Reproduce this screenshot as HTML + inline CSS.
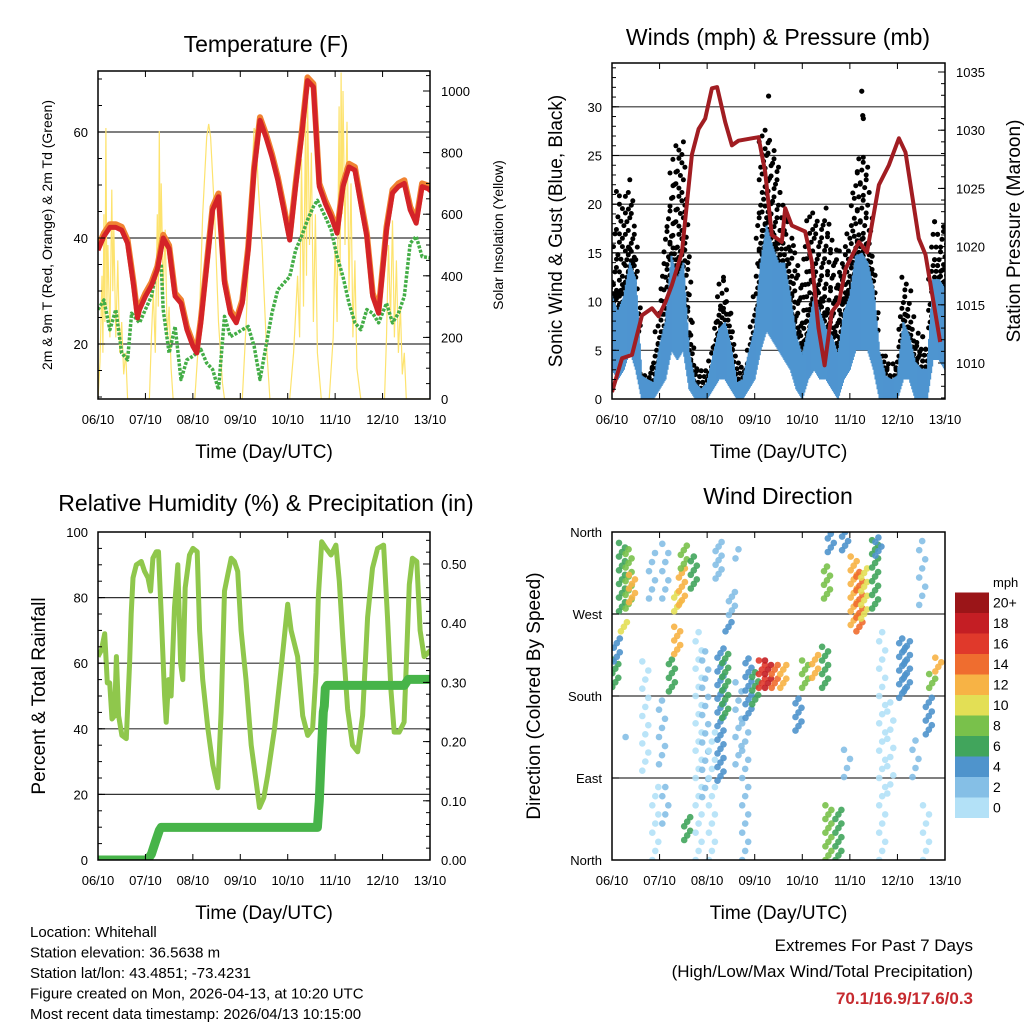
<!DOCTYPE html>
<html><head><meta charset="utf-8"><title>Weather station</title>
<style>
html,body{margin:0;padding:0;background:#fff;}
svg{display:block;font-family:"Liberation Sans",Arial,sans-serif;}
</style></head>
<body>
<svg id="chart" width="1024" height="1024" viewBox="0 0 1024 1024" xmlns="http://www.w3.org/2000/svg">
<defs>
<clipPath id="c1"><rect x="98" y="71" width="332" height="328"/></clipPath>
<clipPath id="c2"><rect x="612" y="63" width="333" height="336"/></clipPath>
<clipPath id="c3"><rect x="98" y="532" width="332" height="328"/></clipPath>
<clipPath id="c4"><rect x="612" y="532" width="333" height="328"/></clipPath>
</defs>
</svg>
<script>
// ---------- DATA ----------
const dayLabels = ["06/10","07/10","08/10","09/10","10/10","11/10","12/10","13/10"];
const tempHours = [0,3,6,9,12,15,18,20,21,24,27,30,33,36,39,42,45,48,50,52,55,58,61,64,67,70,73,76,79,82,85,88,91,94,97,100,103,106,109,112,115,118,121,124,127,130,133,136,139,142,146,149,152,155,158,161,164,167,169];
const tempVals = [37.7,40.3,42,42,41.5,39,31,24.9,26.5,29,31,34,40,38,29,27.7,22.7,19.6,18.3,24,34.6,45.3,47.8,31.5,25.8,24,27.7,37.7,52.8,62.2,59,55.3,50.9,45.3,39.6,49.7,59,69.7,68.5,49.7,46.5,44,40.9,49.7,53.4,52.8,46.5,40.3,29,25.8,41.5,48.5,49.7,50.3,45.3,42.8,49.7,49.3,48.7];
const dewHours = [0,3,6,9,12,15,17,21,24,27,30,32,33,36,39,42,45,48,52,55,58,61,64,67,70,73,76,79,82,85,88,91,94,97,100,103,106,109,111,115,118,121,124,127,130,133,136,139,142,146,149,152,155,158,161,164,169];
const dewVals = [26.5,28.3,22.7,26.5,18.3,17,25.8,24,26.5,29,34.6,35,26.5,18.3,23.3,13.3,17,17.7,19,16.4,15.2,11.4,25.2,21.4,22,22.7,23.3,19.6,13.3,19.6,25.8,30.2,31.5,32.7,37.7,40.3,43.4,45.9,47.1,44,41.5,36.5,32.7,27.7,24,22.7,26.5,25.8,24,27.7,24,25.8,29,39,40.3,36.5,36.2];
const solarHours = [0,1,2,2.5,3,3.5,4,4.5,5,6,7,7.5,8,9,10,11,12,13,14,15, 26,27,28,29,30,30.5,31,31.5,32,33,34,35,36,37,38, 49,51,53,55,56,57,59,61,63,64, 73,75,77,79,80,81,83,85,87, 97,99,101,102,103,104,105,105.5,106,107,108,109,110,111,113, 117,119,120,121,122,122.5,123,123.5,124,125,126,127,128,129,130,131,133, 145,146,147,148,149,150,151,152,153,154,155,156,168];
const solarVals = [0,120,400,150,600,250,880,300,500,200,680,350,560,200,450,150,250,80,150,0, 0,200,350,150,600,300,870,400,700,350,550,200,300,100,0, 0,200,600,850,893,850,600,250,50,0, 0,250,600,880,860,700,500,200,0, 0,150,400,200,780,300,900,400,1000,500,800,250,600,150,0, 0,200,500,250,950,400,1060,600,1000,500,900,350,700,200,450,100,0, 0,200,500,250,580,200,450,150,300,80,150,0,0];

const windHi = [10.6,8.9,10.6,14,12.3,2.4,2,1.7, 5.5,7.9,14.7,12.3,14,4.8,1.7,1, 1.7,4.5,7.2,7.9,5.5,1.7,2,4.8, 7.2,14,17.8,15.7,14,14,10.6,6.5, 4.5,7.2,10.6,8.9,7.2,6.5,4.5,8.9, 10.6,14.7,15,14,11.3,4.8,2.4,2, 2.4,7.9,6.5,3.8,3.1,3.1,12.3,12.3,11.3];
const windLo = [3,2,3,5,3,0,0,0, 1,2,5,4,5,1,0,0, 0,1,2,2,1,0,0,1, 2,5,7,6,5,4,3,1, 0,2,3,2,2,1,0,2, 3,5,5,5,3,0,0,0, 0,2,2,0,0,0,4,4,3];
const gustHi = [12.3,21.9,19.8,23.6,18.1,2.8,2.8,3.8, 10.6,18.1,23.9,26.3,27.3,14.7,3.1,3.1, 2.8,5.5,12,12.7,8.9,3.8,3.1,5.2, 10.6,27.7,28.4,26.7,24.6,19.1,17.4,15.4, 12.3,19.1,19.8,18.5,19.8,17.4,15.4,15.4, 18.5,24.3,25.3,24.3,14,4.5,4.5,2.8, 4.8,13.3,12.3,6.5,7.2,5.8,19.1,18.1,17.4];
const gustOutHours = [79,126,126.5,126.8];
const gustOutVals = [31.1,31.6,29.1,28.8];
const presDays = [0,0.21,0.42,0.63,0.84,0.98,1.12,1.26,1.47,1.68,1.82,1.96,2.1,2.21,2.38,2.52,2.66,2.94,3.08,3.22,3.36,3.57,3.64,3.78,4.06,4.2,4.34,4.47,4.62,4.77,4.91,5.19,5.36,5.61,5.82,6.03,6.17,6.45,6.59,6.9];
const presVals = [1007.5,1010.4,1010.7,1014.1,1014.7,1014,1015.2,1016.7,1019.5,1027.9,1030.1,1031,1033.6,1033.7,1030.7,1028.7,1029.1,1029.3,1029.4,1026.4,1021,1020.4,1023.3,1021.8,1021.3,1018.7,1013,1009.8,1014.4,1015.2,1018.1,1020.4,1019.5,1025.3,1027,1029.3,1028.1,1020.7,1019.3,1011.8];

const rhHours = [0,1.7,3.4,4.7,5.9,7.1,8.4,9.3,10.4,12.1,14.3,16,16.8,17.7,19.4,21.9,23.6,25.3,26.6,27.8,29.5,30.6,32,33.7,34.5,35.7,37,38.7,40.4,41.8,42.9,44.1,46.3,48,50.2,51.4,53,55.6,58.1,60.6,62.3,64,65.7,67.4,69,70.7,72.4,74.9,77.5,80,81.7,83.9,85.9,89.3,92.6,96,97.7,101,103.6,106.1,108.6,110.3,111.5,113.2,115.4,117.9,120.4,122.1,123.8,126.3,128.8,131.4,133.9,136.4,138.9,141.5,144.5,146.5,148.2,149.9,152.4,154.9,157.5,159.1,161.3,163,165,168.4];
const rhVals = [62,64,69,54,54,43,44,62,44,38,37,60,75,86,90,91,88,86,82,92,94,94,75,50,42,55,50,77,90,60,55,83,93,95,94,70,55,40,29,22,45,82,87,92,91,88,70,55,35,24,16,19,26,40,58,78,70,62,44,38,40,57,80,97,95,93,96,85,68,46,35,33,44,74,89,95,96,74,52,39,39,42,84,92,91,70,62,64];
const precipHours = [0,25,27,29,31,32,111,112,113,114,114.5,115,116,155,157,168];
const precipVals = [0,0,0.01,0.03,0.05,0.055,0.055,0.1,0.18,0.25,0.26,0.29,0.295,0.295,0.305,0.305];

const dirDays = [0.07,0.21,0.35,0.42,0.25,0.1,0.35,0.7,0.84,0.91,1.05,1.12,1.12,1.26,1.37,1.37,1.47,1.51,1.58,1.72,1.82,1.96,2.1,2.24,2.28,2.38,2.45,2.52,2.66,2.66,2.8,2.87,3.01,3.15,3.28,3.42,3.6,3.92,4.06,4.27,4.48,4.52,4.55,4.76,4.6,4.9,4.94,5.08,5.2,5.3,5.53,5.6,5.68,5.85,6.1,6.2,6.38,6.52,6.6,6.66,6.73,6.86];
const dirLo = [190,273,276,283,251,218,135,98,287,0,105,287,40,185,273,226,280,320,22,298,0,69,0,309,87,156,251,269,331,105,0,156,171,189,189,189,189,142,189,200,189,287,0,0,338,340,91,258,251,265,276,334,0,73,178,185,91,280,0,138,189,207];
const dirHi = [223,349,345,316,265,243,140,222,338,87,178,353,87,222,295,258,324,349,51,334,251,233,142,353,233,229,262,298,345,196,156,222,207,222,222,218,218,178,222,225,236,324,62,58,360,360,127,335,320,320,353,358,251,178,244,240,135,353,69,182,207,222];
const dirSpd = [6,7,9,12,10,5,2,1,2,1,2,2,2,6,10,12,12,8,6,6,1,2,1,3,4,6,4,3,2,2,2,4,7,16,19,14,12,4,9,12,7,9,9,6,4,4,2,12,14,11,7,5,1,1,5,4,2,2,1,4,8,12];
const speedLabels = ["0","2","4","6","8","10","12","14","16","18","20+"];
const speedColors = ["#b3e1f7","#85bfe6","#4f94cc","#41a55c","#79c14b","#e3df55","#f7b345","#ef6d2f","#e0392b","#c41e24","#9b1518"];

// ---------- HELPERS ----------
const NS = "http://www.w3.org/2000/svg";
const svg = document.getElementById('chart');
function mk(tag, attrs, parent){
  const e = document.createElementNS(NS, tag);
  for (const k in attrs) e.setAttribute(k, attrs[k]);
  (parent || svg).appendChild(e);
  return e;
}
function txt(x, y, s, size, anchor, rot, name, parent, extra){
  const t = mk('text', {x:x, y:y, 'font-size':size, 'text-anchor':anchor||'middle', fill:'#000'}, parent);
  if (rot) t.setAttribute('transform', 'rotate(' + rot + ' ' + x + ' ' + y + ')');
  if (extra) for (const k in extra) t.setAttribute(k, extra[k]);
  t.textContent = s;
  
  
  return t;
}
function grp(name, parent, clip){
  const g = mk('g', clip ? {'clip-path':'url(#' + clip + ')'} : {}, parent);
  
  
  return g;
}
const P1 = {x0:98, x1:430, y0:71, y1:399};
const P2 = {x0:612, x1:945, y0:63, y1:399};
const P3 = {x0:98, x1:430, y0:532, y1:860};
const P4 = {x0:612, x1:945, y0:532, y1:860};
function xs(P, h){ return P.x0 + h / 168 * (P.x1 - P.x0); }
const yTemp = v => 344 - (v - 20) * 5.3;
const ySolar = v => 399 - v * 0.308;
const yWind = v => 399 - v * 9.74;
const yPres = v => 363 - (v - 1010) * 11.64;
const yRH = v => 860 - v * 3.28;
const yPrc = v => 860 - v * 592;
const yDir = v => 860 - v / 360 * 328;

function drawFrame(P, g){
  const r = mk('rect', {x:P.x0, y:P.y0, width:P.x1-P.x0, height:P.y1-P.y0, fill:'none', stroke:'#000', 'stroke-width':1.5}, g);
  
  
}
function gridlines(P, g, vals, yf){
  vals.forEach(v => {
    const l = mk('line', {x1:P.x0, x2:P.x1, y1:yf(v), y2:yf(v), stroke:'#333', 'stroke-width':1.2}, g);
    
    
  });
}
function xAxis(P, g){
  const step = (P.x1 - P.x0) / 7;
  dayLabels.forEach((d, i) => {
    const x = P.x0 + i * step;
    mk('line', {x1:x, x2:x, y1:P.y1, y2:P.y1-6, stroke:'#000', 'stroke-width':1}, g);
    mk('line', {x1:x, x2:x, y1:P.y0, y2:P.y0+6, stroke:'#000', 'stroke-width':1}, g);
    txt(x, P.y1 + 25, d, 13, 'middle', 0, 'x-tick-label', g);
  });
  txt((P.x0 + P.x1) / 2, P.y1 + 59, 'Time (Day/UTC)', 19, 'middle', 0, 'x-axis-title', g);
}
function yAxis(P, g, side, majors, labels, minors, yf){
  const x = side === 'left' ? P.x0 : P.x1;
  const dir = side === 'left' ? 1 : -1;
  minors.forEach(v => { const y = yf(v); if (y >= P.y0 - 0.5 && y <= P.y1 + 0.5) mk('line', {x1:x, x2:x + dir*4, y1:y, y2:y, stroke:'#000', 'stroke-width':1}, g); });
  majors.forEach((v, i) => {
    const y = yf(v);
    mk('line', {x1:x, x2:x + dir*7, y1:y, y2:y, stroke:'#000', 'stroke-width':1}, g);
    if (side === 'left') txt(x - 10, y + 5, labels[i], 13, 'end', 0, 'y-tick-label', g);
    else txt(x + 11, y + 5, labels[i], 13, 'start', 0, 'y2-tick-label', g);
  });
}
function range(a, b, s){ const r = []; for (let v = a; v <= b + 1e-9; v += s) r.push(+v.toFixed(4)); return r; }
function pts(P, hs, vs, yf){ return hs.map((h, i) => xs(P, h).toFixed(1) + ',' + yf(vs[i]).toFixed(1)).join(' '); }

// ---------- PANEL 1: TEMPERATURE ----------
const g1 = grp('temperature-panel');
txt(266, 52, 'Temperature (F)', 23, 'middle', 0, 'temperature-title', g1);
gridlines(P1, g1, [20, 40, 60], yTemp);
const s1 = grp('temperature-series', g1, 'c1');
const solarLine = mk('polyline', {points: pts(P1, solarHours, solarVals, ySolar), fill:'none', stroke:'#fde36e', 'stroke-width':1.2}, s1);


const dewLine = mk('polyline', {points: pts(P1, dewHours, dewVals, yTemp), fill:'none', stroke:'#43ad46', 'stroke-width':3.5, 'stroke-dasharray':'3 1.5', 'stroke-linejoin':'round'}, s1);


const t9Line = mk('polyline', {points: pts(P1, tempHours, tempVals.map(v => v + 0.6), yTemp), fill:'none', stroke:'#f08332', 'stroke-width':6, 'stroke-linejoin':'round'}, s1);


const t2Line = mk('polyline', {points: pts(P1, tempHours, tempVals, yTemp), fill:'none', stroke:'#d42328', 'stroke-width':5, 'stroke-linejoin':'round'}, s1);


drawFrame(P1, g1);
yAxis(P1, g1, 'left', [20, 40, 60], ['20', '40', '60'], range(10, 70, 5), yTemp);
yAxis(P1, g1, 'right', [0, 200, 400, 600, 800, 1000], ['0', '200', '400', '600', '800', '1000'], range(0, 1050, 50), ySolar);
xAxis(P1, g1);
txt(52, 235, '2m & 9m T (Red, Orange) & 2m Td (Green)', 14, 'middle', -90, 'temperature-y-axis-title', g1);
txt(503, 235, 'Solar Insolation (Yellow)', 14, 'middle', -90, 'solar-y-axis-title', g1);

// ---------- PANEL 2: WINDS ----------
const g2 = grp('winds-panel');
txt(778, 45, 'Winds (mph) & Pressure (mb)', 23, 'middle', 0, 'winds-title', g2);
gridlines(P2, g2, [5, 10, 15, 20, 25, 30], yWind);
const s2 = grp('wind-series', g2, 'c2');
const interp = (arr, h) => { const i = Math.min(Math.floor(h / 3), arr.length - 2); const f = h / 3 - i; return arr[i] * (1 - f) + arr[i + 1] * f; };
const gustG = grp('gust-dots', s2);
let col = 0;
for (let h = 0; h <= 168; h += 1.5) {
  const hi = interp(windHi, h), gu = interp(gustHi, h);
  const x = xs(P2, h);
  let k = 0;
  for (let v = Math.max(0.5, hi - 1); v <= gu; v += (k < 6 ? 0.6 : 1.3)) {
    mk('circle', {cx:(x + ((k + col) % 3 - 1) * 1.5).toFixed(1), cy:yWind(v).toFixed(1), r:2.5, fill:'#000'}, gustG);
    k++;
  }
  col++;
}
gustOutHours.forEach((h, i) => {
  const c = mk('circle', {cx:xs(P2, h), cy:yWind(gustOutVals[i]), r:2.6, fill:'#000'}, gustG);
  
  
});
const windG = grp('wind-speed-band', s2);
for (let h = 0; h <= 168; h += 0.5) {
  const x = xs(P2, h);
  const lo = interp(windLo, h), hi = interp(windHi, h);
  mk('line', {x1:x.toFixed(1), x2:x.toFixed(1), y1:yWind(lo).toFixed(1), y2:yWind(hi).toFixed(1), stroke:'#4e95d0', 'stroke-width':2.2}, windG);
}
const presLine = mk('polyline', {points: pts(P2, presDays.map(d => d * 24), presVals, yPres), fill:'none', stroke:'#a11d22', 'stroke-width':4, 'stroke-linejoin':'round'}, s2);


drawFrame(P2, g2);
yAxis(P2, g2, 'left', [0, 5, 10, 15, 20, 25, 30], ['0', '5', '10', '15', '20', '25', '30'], range(0, 34, 1), yWind);
yAxis(P2, g2, 'right', [1010, 1015, 1020, 1025, 1030, 1035], ['1010', '1015', '1020', '1025', '1030', '1035'], range(1007, 1035, 1), yPres);
xAxis(P2, g2);
txt(562, 231, 'Sonic Wind & Gust (Blue, Black)', 19, 'middle', -90, 'wind-y-axis-title', g2);
txt(1020, 231, 'Station Pressure (Maroon)', 19, 'middle', -90, 'pressure-y-axis-title', g2);

// ---------- PANEL 3: RH & PRECIP ----------
const g3 = grp('humidity-panel');
txt(266, 511, 'Relative Humidity (%) & Precipitation (in)', 23, 'middle', 0, 'humidity-title', g3);
gridlines(P3, g3, [20, 40, 60, 80], yRH);
const s3 = grp('humidity-series', g3, 'c3');
const rhLine = mk('polyline', {points: pts(P3, rhHours, rhVals, yRH), fill:'none', stroke:'#8fc74c', 'stroke-width':5, 'stroke-linejoin':'round'}, s3);


const prLine = mk('polyline', {points: pts(P3, precipHours, precipVals, yPrc), fill:'none', stroke:'#47b449', 'stroke-width':9, 'stroke-linejoin':'round', 'stroke-linecap':'round'}, s3);


drawFrame(P3, g3);
yAxis(P3, g3, 'left', [0, 20, 40, 60, 80, 100], ['0', '20', '40', '60', '80', '100'], range(0, 100, 5), yRH);
yAxis(P3, g3, 'right', [0, 0.1, 0.2, 0.3, 0.4, 0.5], ['0.00', '0.10', '0.20', '0.30', '0.40', '0.50'], range(0, 0.55, 0.02), yPrc);
xAxis(P3, g3);
txt(45, 696, 'Percent & Total Rainfall', 19, 'middle', -90, 'humidity-y-axis-title', g3);

// ---------- PANEL 4: WIND DIRECTION ----------
const g4 = grp('wind-direction-panel');
txt(778, 504, 'Wind Direction', 23, 'middle', 0, 'wind-direction-title', g4);
gridlines(P4, g4, [90, 180, 270], yDir);
const s4 = grp('direction-points', g4, 'c4');
dirDays.forEach((d, i) => {
  const spd = dirSpd[i];
  const c0 = speedColors[Math.min(10, Math.floor(spd / 2))];
  const step = spd < 3 ? 10 : 5;
  const x = xs(P4, d * 24);
  let k = 0;
  for (let v = dirLo[i]; v <= dirHi[i]; v += step) {
    mk('circle', {cx:(x + (k % 3 - 1) * 3).toFixed(1), cy:yDir(v).toFixed(1), r:3.3, fill:c0, 'fill-opacity':0.9}, s4);
    k++;
  }
});
drawFrame(P4, g4);
const dirNames = ['North', 'East', 'South', 'West', 'North'];
yAxis(P4, g4, 'left', [0, 90, 180, 270, 360], dirNames, [], yDir);
xAxis(P4, g4);
txt(540, 696, 'Direction (Colored By Speed)', 19, 'middle', -90, 'direction-y-axis-title', g4);
const cb = grp('speed-colorbar', g4);
txt(993, 587, 'mph', 13, 'start', 0, 'colorbar-unit', cb);
speedColors.forEach((c, i) => {
  const y = 818 - (i + 1) * 20.5;
  const r = mk('rect', {x:955, y:y, width:34, height:20.5, fill:c}, cb);
  
  
  txt(993, y + 15, speedLabels[i], 14, 'start', 0, 'colorbar-label', cb);
});

// ---------- FOOTER ----------
const ft = grp('station-info');
['Location: Whitehall', 'Station elevation: 36.5638 m', 'Station lat/lon: 43.4851; -73.4231', 'Figure created on Mon, 2026-04-13, at 10:20 UTC', 'Most recent data timestamp: 2026/04/13 10:15:00'].forEach((s, i) => {
  txt(30, 937 + i * 20.5, s, 15, 'start', 0, 'station-info-line', ft);
});
const ex = grp('extremes-box');
txt(973, 951, 'Extremes For Past 7 Days', 17, 'end', 0, 'extremes-title', ex);
txt(973, 977, '(High/Low/Max Wind/Total Precipitation)', 17, 'end', 0, 'extremes-subtitle', ex);
txt(973, 1004, '70.1/16.9/17.6/0.3', 17, 'end', 0, 'extremes-values', ex, {fill:'#c62a2f', 'font-weight':'bold'});
</script>
</body></html>
